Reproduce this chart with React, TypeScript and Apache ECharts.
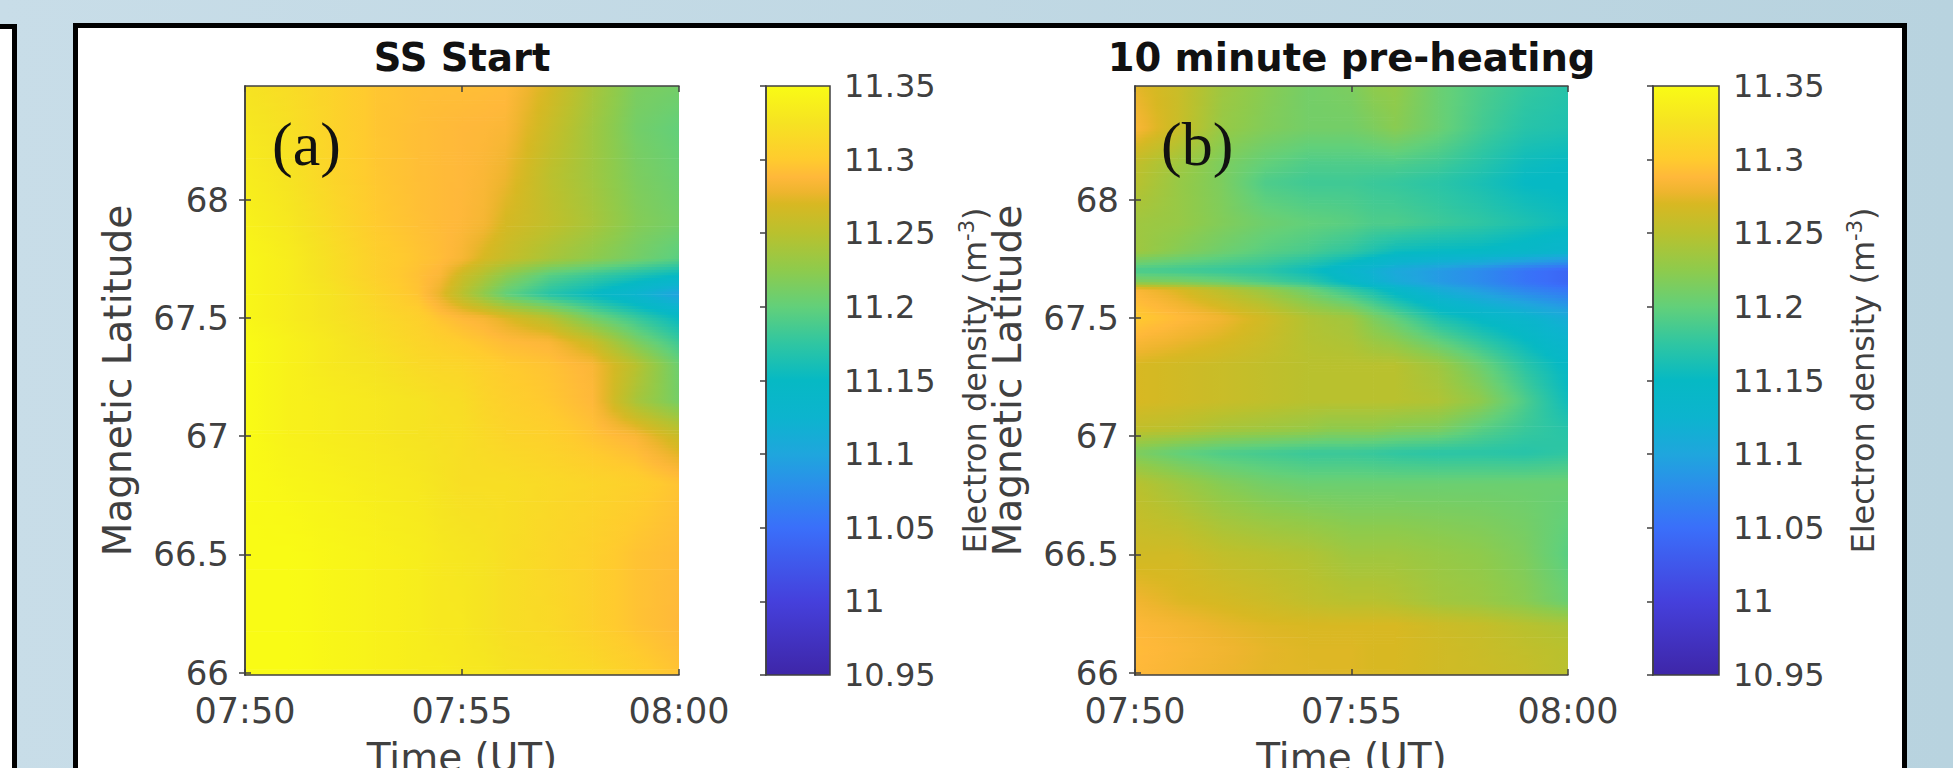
import React, { useEffect, useRef } from "react";
import * as echarts from "echarts";

const timeMinutes = [0, 1, 2, 3, 4, 4.5, 5, 5.5, 6, 7, 8, 9, 10];
const timeTickLabels = ["07:50", "07:55", "08:00"];
const latTicks = [66, 66.5, 67, 67.5, 68];

const latA = [68.48, 68.3, 68.1, 67.9, 67.75, 67.68, 67.6, 67.5, 67.4, 67.3, 67.15, 67, 66.8, 66.5, 66.2, 65.99];
const densityA = [
  [11.325, 11.318, 11.308, 11.297, 11.293, 11.292, 11.292, 11.291, 11.29, 11.268, 11.24, 11.215, 11.21],
  [11.33, 11.322, 11.308, 11.297, 11.292, 11.29, 11.288, 11.287, 11.285, 11.26, 11.235, 11.21, 11.2],
  [11.335, 11.325, 11.31, 11.298, 11.292, 11.29, 11.288, 11.285, 11.278, 11.252, 11.235, 11.215, 11.205],
  [11.34, 11.33, 11.315, 11.3, 11.293, 11.29, 11.287, 11.282, 11.268, 11.255, 11.24, 11.22, 11.21],
  [11.345, 11.335, 11.32, 11.305, 11.296, 11.291, 11.283, 11.268, 11.258, 11.24, 11.225, 11.21, 11.195],
  [11.345, 11.335, 11.32, 11.305, 11.293, 11.285, 11.262, 11.245, 11.225, 11.195, 11.18, 11.165, 11.15],
  [11.345, 11.335, 11.325, 11.31, 11.295, 11.275, 11.25, 11.225, 11.2, 11.17, 11.15, 11.125, 11.095],
  [11.345, 11.335, 11.325, 11.315, 11.305, 11.295, 11.288, 11.283, 11.272, 11.25, 11.21, 11.18, 11.15],
  [11.35, 11.34, 11.33, 11.32, 11.31, 11.305, 11.3, 11.295, 11.29, 11.285, 11.26, 11.215, 11.18],
  [11.35, 11.34, 11.33, 11.325, 11.315, 11.312, 11.31, 11.305, 11.3, 11.295, 11.285, 11.25, 11.205],
  [11.35, 11.34, 11.335, 11.33, 11.325, 11.32, 11.318, 11.31, 11.305, 11.298, 11.288, 11.24, 11.21],
  [11.35, 11.34, 11.335, 11.33, 11.325, 11.322, 11.32, 11.315, 11.31, 11.305, 11.295, 11.285, 11.26],
  [11.35, 11.345, 11.34, 11.335, 11.33, 11.325, 11.32, 11.32, 11.32, 11.315, 11.31, 11.305, 11.295],
  [11.35, 11.35, 11.345, 11.34, 11.335, 11.33, 11.328, 11.325, 11.32, 11.312, 11.305, 11.295, 11.29],
  [11.35, 11.35, 11.345, 11.34, 11.335, 11.33, 11.33, 11.325, 11.32, 11.315, 11.305, 11.295, 11.288],
  [11.35, 11.35, 11.345, 11.34, 11.335, 11.335, 11.33, 11.33, 11.325, 11.32, 11.315, 11.305, 11.295],
];

const latB = [68.48, 68.3, 68.15, 68.07, 67.9, 67.78, 67.7, 67.65, 67.62, 67.5, 67.3, 67.15, 67.03, 66.93, 66.8, 66.5, 66.3, 66.2, 66.1, 65.99];
const densityB = [
  [11.275, 11.26, 11.235, 11.222, 11.21, 11.212, 11.215, 11.225, 11.228, 11.205, 11.19, 11.178, 11.17],
  [11.285, 11.26, 11.23, 11.218, 11.21, 11.21, 11.21, 11.215, 11.222, 11.205, 11.185, 11.17, 11.165],
  [11.255, 11.235, 11.215, 11.2, 11.19, 11.19, 11.19, 11.19, 11.19, 11.183, 11.17, 11.155, 11.15],
  [11.25, 11.23, 11.215, 11.19, 11.183, 11.183, 11.183, 11.18, 11.178, 11.172, 11.162, 11.15, 11.148],
  [11.235, 11.23, 11.218, 11.207, 11.2, 11.198, 11.195, 11.19, 11.19, 11.182, 11.175, 11.165, 11.155],
  [11.235, 11.22, 11.207, 11.195, 11.187, 11.18, 11.175, 11.165, 11.155, 11.15, 11.148, 11.14, 11.13],
  [11.187, 11.183, 11.178, 11.172, 11.155, 11.145, 11.13, 11.118, 11.105, 11.09, 11.075, 11.055, 11.04],
  [11.22, 11.215, 11.205, 11.19, 11.175, 11.16, 11.145, 11.125, 11.11, 11.09, 11.075, 11.055, 11.04],
  [11.285, 11.27, 11.25, 11.23, 11.205, 11.19, 11.175, 11.16, 11.14, 11.11, 11.09, 11.07, 11.055],
  [11.3, 11.29, 11.28, 11.265, 11.245, 11.24, 11.235, 11.215, 11.2, 11.165, 11.145, 11.13, 11.11],
  [11.27, 11.265, 11.26, 11.255, 11.25, 11.25, 11.25, 11.25, 11.25, 11.235, 11.205, 11.172, 11.145],
  [11.27, 11.265, 11.26, 11.255, 11.25, 11.25, 11.25, 11.25, 11.25, 11.245, 11.225, 11.19, 11.155],
  [11.255, 11.25, 11.24, 11.235, 11.23, 11.225, 11.225, 11.225, 11.22, 11.215, 11.195, 11.18, 11.17],
  [11.215, 11.2, 11.19, 11.185, 11.18, 11.18, 11.18, 11.178, 11.175, 11.172, 11.172, 11.17, 11.175],
  [11.25, 11.235, 11.22, 11.21, 11.205, 11.205, 11.205, 11.205, 11.205, 11.205, 11.205, 11.205, 11.205],
  [11.265, 11.265, 11.255, 11.25, 11.245, 11.24, 11.235, 11.235, 11.235, 11.23, 11.225, 11.215, 11.195],
  [11.28, 11.272, 11.268, 11.262, 11.255, 11.252, 11.25, 11.25, 11.247, 11.237, 11.232, 11.222, 11.205],
  [11.287, 11.282, 11.276, 11.272, 11.27, 11.27, 11.27, 11.27, 11.27, 11.263, 11.258, 11.25, 11.243],
  [11.29, 11.285, 11.28, 11.275, 11.272, 11.272, 11.272, 11.27, 11.27, 11.265, 11.26, 11.255, 11.25],
  [11.288, 11.283, 11.278, 11.274, 11.273, 11.272, 11.272, 11.27, 11.27, 11.265, 11.262, 11.258, 11.25],
];

const colorLevels = [10.95, 11.0, 11.05, 11.08, 11.1, 11.125, 11.15, 11.175, 11.2, 11.225, 11.25, 11.27, 11.278, 11.288, 11.3, 11.325, 11.35];
const colorValues = ["#3e26a8", "#4540dc", "#3a6ffa", "#2a90ea", "#1fa6dd", "#0cb4ce", "#06b9c4", "#2fc6a2", "#62d07a", "#8ecb4c", "#b9c12e", "#d8b822", "#eeb52e", "#ffb83a", "#ffcb2e", "#f6e322", "#f9fb15"];

const FONT = "DejaVu Sans";
const INK = "#404040";

const rgb = (hex: string) => [1, 3, 5].map((i) => parseInt(hex.slice(i, i + 2), 16));
const colorOf = (v: number) => {
  const x = Math.min(colorLevels[colorLevels.length - 1], Math.max(colorLevels[0], v));
  let i = 0;
  while (i < colorLevels.length - 2 && x > colorLevels[i + 1]) i++;
  const f = (x - colorLevels[i]) / (colorLevels[i + 1] - colorLevels[i]);
  const a = rgb(colorValues[i]);
  const b = rgb(colorValues[i + 1]);
  return `rgb(${a.map((c, k) => Math.round(c + (b[k] - c) * f)).join(",")})`;
};

const cellsOf = (lats: number[], matrix: number[][]) => {
  const out: number[][] = [];
  for (let r = 0; r < lats.length - 1; r++) {
    for (let c = 0; c < timeMinutes.length - 1; c++) {
      out.push([
        timeMinutes[c], lats[r + 1], timeMinutes[c + 1], lats[r],
        matrix[r + 1][c], matrix[r + 1][c + 1], matrix[r][c], matrix[r][c + 1],
      ]);
    }
  }
  return out;
};

const renderCell = (_: any, api: any) => {
  const [x0, yBottom] = api.coord([api.value(0), api.value(1)]);
  const [x1, yTop] = api.coord([api.value(2), api.value(3)]);
  const w = x1 - x0;
  const h = yBottom - yTop;
  const n = Math.max(1, Math.ceil(h / 3));
  const children: any[] = [];
  for (let i = 0; i < n; i++) {
    const f = (i + 0.5) / n;
    const left = api.value(6) + (api.value(4) - api.value(6)) * f;
    const right = api.value(7) + (api.value(5) - api.value(7)) * f;
    const colorStops = [0, 0.25, 0.5, 0.75, 1].map((o) => ({ offset: o, color: colorOf(left + (right - left) * o) }));
    children.push({
      type: "rect",
      shape: { x: x0, y: yTop + (i * h) / n, width: w + 0.7, height: h / n + 0.7 },
      style: { fill: new echarts.graphic.LinearGradient(0, 0, 1, 0, colorStops) },
    });
  }
  return { type: "group", children };
};

const renderBar = (_: any, api: any) => {
  const [x0, y0] = api.coord([0, colorLevels[0]]);
  const [x1, y1] = api.coord([1, colorLevels[colorLevels.length - 1]]);
  const colorStops = colorLevels.map((v, i) => ({
    offset: (colorLevels[colorLevels.length - 1] - v) / (colorLevels[colorLevels.length - 1] - colorLevels[0]),
    color: colorValues[i],
  })).reverse();
  return {
    type: "rect",
    shape: { x: x0, y: y1, width: x1 - x0, height: y0 - y1 },
    style: { fill: new echarts.graphic.LinearGradient(0, 0, 0, 1, colorStops), stroke: INK, lineWidth: 1.5 },
  };
};

const TOP = 86;
const HEIGHT = 589;
const panels = [
  { left: 245, width: 434, barLeft: 766, barWidth: 64, title: "SS Start", lats: latA, matrix: densityA },
  { left: 1135, width: 433, barLeft: 1653, barWidth: 66, title: "10 minute pre-heating", lats: latB, matrix: densityB },
];

const buildOption = () => {
  const grid: any[] = [];
  const xAxis: any[] = [];
  const yAxis: any[] = [];
  const series: any[] = [];
  const frameLine = { show: true, lineStyle: { color: INK, width: 1.5 } };
  const tick = { show: true, inside: true, length: 6, lineStyle: { color: INK, width: 1.5 } };
  const label = { color: INK, fontFamily: FONT, fontSize: 34 };

  panels.forEach((p, k) => {
    const g = grid.length;
    grid.push({ left: p.left, top: TOP, width: p.width, height: HEIGHT, show: false, outerBoundsMode: "none" });
    const xBase = { type: "value", gridIndex: g, min: 0, max: 10, interval: 5, splitLine: { show: false }, axisLine: frameLine, z: 10 };
    const yBase = { type: "value", gridIndex: g, min: 65.99, max: 68.48, splitLine: { show: false }, axisLine: frameLine, z: 10 };
    const xi = xAxis.length;
    const yi = yAxis.length;
    xAxis.push({
      ...xBase,
      position: "bottom",
      axisTick: tick,
      axisLabel: { ...label, fontSize: 35, margin: 18, formatter: (v: number) => timeTickLabels[v / 5] },
      name: "Time (UT)",
      nameLocation: "middle",
      nameGap: 63,
      nameTextStyle: { color: INK, fontFamily: FONT, fontSize: 39 },
    });
    xAxis.push({ ...xBase, position: "top", axisTick: tick, axisLabel: { show: false } });
    yAxis.push({
      ...yBase,
      position: "left",
      axisTick: { ...tick, customValues: latTicks },
      axisLabel: { ...label, margin: 16, customValues: latTicks },
      name: "Magnetic Latitude",
      nameLocation: "middle",
      nameRotate: 90,
      nameGap: 108,
      nameTextStyle: { color: INK, fontFamily: FONT, fontSize: 39 },
    });
    yAxis.push({ ...yBase, position: "right", axisTick: { ...tick, customValues: latTicks }, axisLabel: { show: false } });
    series.push({
      type: "custom",
      name: p.title,
      xAxisIndex: xi,
      yAxisIndex: yi,
      silent: true,
      clip: true,
      renderItem: renderCell,
      encode: { x: [0, 2], y: [1, 3] },
      data: cellsOf(p.lats, p.matrix),
    });

    const b = grid.length;
    grid.push({ left: p.barLeft, top: TOP, width: p.barWidth, height: HEIGHT, show: false, outerBoundsMode: "none" });
    const bx = xAxis.length;
    const by = yAxis.length;
    xAxis.push({ type: "value", gridIndex: b, min: 0, max: 1, show: false });
    yAxis.push({
      type: "value",
      gridIndex: b,
      position: "right",
      min: 10.95,
      max: 11.35,
      interval: 0.05,
      z: 10,
      splitLine: { show: false },
      axisLine: frameLine,
      axisTick: tick,
      axisLabel: { ...label, fontSize: 32, margin: 14 },
      name: "{a|Electron density (m}{b|-3}{a|)}",
      nameLocation: "middle",
      nameRotate: 90,
      nameGap: k === 0 ? 126 : 125,
      nameTextStyle: {
        rich: {
          a: { color: INK, fontFamily: FONT, fontSize: 32 },
          b: { color: INK, fontFamily: FONT, fontSize: 21, padding: [0, 0, 16, 0] },
        },
      },
    });
    series.push({
      type: "custom",
      name: "colorbar " + k,
      xAxisIndex: bx,
      yAxisIndex: by,
      silent: true,
      clip: false,
      renderItem: renderBar,
      encode: { x: 0, y: 1 },
      data: [[0, colorLevels[0]]],
    });
  });

  const title = panels.map((p) => ({
    text: p.title,
    left: p.left + p.width / 2,
    top: 38,
    textAlign: "center",
    padding: 0,
    textStyle: { color: "#111", fontFamily: FONT, fontWeight: "bold", fontSize: 38.5 },
  }));

  const graphic = [
    { type: "text", left: 272, top: 113, z: 50, style: { text: "(a)", font: "62px 'Liberation Serif'", fill: "#111" } },
    { type: "text", left: 1161, top: 113, z: 50, style: { text: "(b)", font: "62px 'Liberation Serif'", fill: "#111" } },
  ];

  return { animation: false, backgroundColor: "transparent", title, grid, xAxis, yAxis, series, graphic };
};

const box = (style: React.CSSProperties): React.CSSProperties => ({
  position: "absolute",
  boxSizing: "border-box",
  background: "#fff",
  border: "5px solid #000",
  ...style,
});

export default function App() {
  const ref = useRef<HTMLDivElement>(null);
  useEffect(() => {
    document.body.style.margin = "0";
    document.body.style.overflow = "hidden";
    const chart = echarts.init(ref.current!, undefined, { renderer: "svg" });
    chart.setOption(buildOption() as any);
    return () => chart.dispose();
  }, []);
  return (
    <div style={{ position: "relative", width: 1953, height: 768, overflow: "hidden", background: "linear-gradient(90deg,#c8dde8,#b8d3df)" }}>
      <div style={box({ left: -10, top: 24, width: 27, height: 800 })} />
      <div style={box({ left: 73, top: 23, width: 1834, height: 800 })} />
      <div ref={ref} style={{ position: "absolute", left: 0, top: 0, width: 1953, height: 768 }} />
    </div>
  );
}
